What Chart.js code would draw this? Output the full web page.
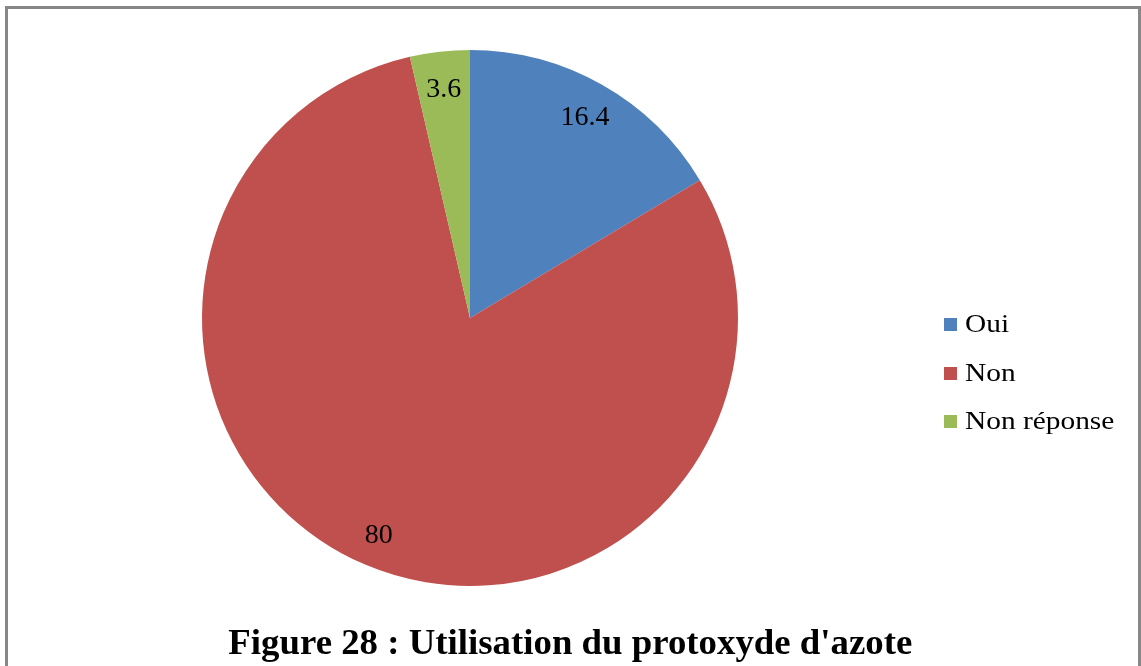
<!DOCTYPE html>
<html>
<head>
<meta charset="utf-8">
<script src="https://cdn.jsdelivr.net/npm/chart.js@4/dist/chart.umd.min.js"></script>
<style>
  html, body { margin: 0; padding: 0; background: #fff; }
  #wrap { position: relative; width: 1141px; height: 666px; overflow: hidden; background: #fff; }
  #frame {
    position: absolute; left: 5px; top: 6px; width: 1136px; height: 700px;
    box-sizing: border-box; border: 3px solid #878787; border-bottom: none;
  }
  #chart { position: absolute; left: 0; top: 0; }
  #legend {
    position: absolute; left: 944px; top: 309px;
    font-family: "Liberation Serif", "Times New Roman", serif; font-size: 26px; color: #000;
  }
  .item { height: 48.5px; display: flex; align-items: flex-start; white-space: nowrap; }
  .box { width: 13px; height: 13px; margin-top: 9px; margin-right: 8px; flex: none; }
  .txt { display: inline-block; transform: scaleX(1.13); transform-origin: left center; }
  #title {
    position: absolute; left: 0; top: 621px; width: 1141px; text-align: center;
    font-family: "Liberation Serif", "Times New Roman", serif; font-weight: bold; font-size: 36px;
    color: #000; white-space: nowrap;
  }
</style>
</head>
<body>
<div id="wrap">
  <div id="frame"></div>
  <canvas id="chart" width="1141" height="666"></canvas>
  <div id="legend"></div>
  <div id="title"><span id="titleText">Figure 28 : Utilisation du protoxyde d'azote</span></div>
</div>
<script>
// Chart data
const categories = ['Oui', 'Non', 'Non réponse'];
const values = [16.4, 80, 3.6];
const colors = ['#4F81BD', '#C0504D', '#9BBB59'];

// Draw the value of each slice inside it, along the middle angle
const sliceLabels = {
    id: 'sliceLabels',
    afterDatasetsDraw: function(chart) {
        const ctx = chart.ctx;
        const meta = chart.getDatasetMeta(0);
        ctx.save();
        ctx.font = '28px "Liberation Serif", "Times New Roman", serif';
        ctx.fillStyle = '#000';
        ctx.textAlign = 'center';
        ctx.textBaseline = 'middle';
        meta.data.forEach(function(arc, i) {
            const mid = (arc.startAngle + arc.endAngle) / 2;
            const r = arc.outerRadius * 0.87;
            const x = arc.x + Math.cos(mid) * r;
            const y = arc.y + Math.sin(mid) * r + 3;
            ctx.fillText(String(values[i]), x, y);
        });
        ctx.restore();
    }
};

const chart = new Chart(document.getElementById('chart'), {
    type: 'pie',
    data: {
        labels: categories,
        datasets: [{
            data: values,
            backgroundColor: colors,
            borderWidth: 0
        }]
    },
    options: {
        responsive: false,
        animation: false,
        layout: {
            padding: { left: 202, right: 403, top: 50, bottom: 80 }
        },
        plugins: {
            legend: { display: false },
            tooltip: { enabled: false }
        }
    },
    plugins: [sliceLabels]
});

// Legend built from the same arrays
const legend = document.getElementById('legend');
categories.forEach(function(name, i) {
    const item = document.createElement('div');
    item.className = 'item';
    item.innerHTML = '<span class="box" style="background:' + colors[i] + '"></span><span class="txt">' + name + '</span>';
    legend.appendChild(item);
});

// Title is narrower in the reference, squeeze it to fit
const titleText = document.getElementById('titleText');
titleText.style.display = 'inline-block';
const w = titleText.getBoundingClientRect().width;
titleText.style.transform = 'scaleX(' + (684 / w) + ')';
</script>
</body>
</html>
